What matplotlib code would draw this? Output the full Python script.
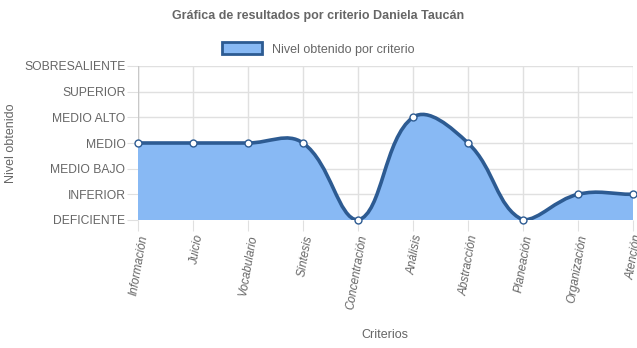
import numpy as np
import matplotlib
matplotlib.use("Agg")
import matplotlib.pyplot as plt
from matplotlib.path import Path
from matplotlib.patches import PathPatch, Patch

plt.rcParams['font.family'] = ['Liberation Sans', 'DejaVu Sans']

# datos
criterios = ['Información', 'Juicio', 'Vocabulario', 'Síntesis', 'Concentración',
             'Análisis', 'Abstracción', 'Planeación', 'Organización', 'Atención']
niveles = ['DEFICIENTE', 'INFERIOR', 'MEDIO BAJO', 'MEDIO', 'MEDIO ALTO',
           'SUPERIOR', 'SOBRESALIENTE']
valores = [3, 3, 3, 3, 0, 4, 3, 0, 1, 1]

gris = '#666666'
linea = '#2d5b92'
relleno = '#88b9f4'

fig = plt.figure(figsize=(6.37, 3.48), dpi=100)
ax = fig.add_axes([138 / 637, 1 - 220 / 348, 495 / 637, 154 / 348])
ax.set_xlim(0, len(criterios) - 1)
ax.set_ylim(0, len(niveles) - 1)

# curva tipo chart.js (tension 0.4) calculada en pixeles
x = np.arange(len(valores), dtype=float)
y = np.array(valores, dtype=float)
sx, sy = 55.0, 154 / 6
px, py = x * sx, y * sy
t = 0.4
cps = []
for i in range(len(px)):
    p0 = (px[max(i - 1, 0)], py[max(i - 1, 0)])
    p1 = (px[i], py[i])
    p2 = (px[min(i + 1, len(px) - 1)], py[min(i + 1, len(px) - 1)])
    d01 = np.hypot(p1[0] - p0[0], p1[1] - p0[1])
    d12 = np.hypot(p2[0] - p1[0], p2[1] - p1[1])
    s01 = d01 / (d01 + d12) if d01 + d12 else 0
    s12 = d12 / (d01 + d12) if d01 + d12 else 0
    fa, fb = t * s01, t * s12
    prev = (p1[0] - fa * (p2[0] - p0[0]), p1[1] - fa * (p2[1] - p0[1]))
    nxt = (p1[0] + fb * (p2[0] - p0[0]), p1[1] + fb * (p2[1] - p0[1]))
    cps.append((prev, nxt))

def clip(p):
    return (p[0] / sx, min(max(p[1] / sy, 0), 6))

verts = [(x[0], y[0])]
codes = [Path.MOVETO]
for i in range(len(x) - 1):
    verts += [clip(cps[i][1]), clip(cps[i + 1][0]), (x[i + 1], y[i + 1])]
    codes += [Path.CURVE4] * 3

area = Path(verts + [(x[-1], 0), (x[0], 0), (x[0], y[0])],
            codes + [Path.LINETO, Path.LINETO, Path.LINETO])
ax.add_patch(PathPatch(area, facecolor=relleno, edgecolor='none', zorder=2))
ax.add_patch(PathPatch(Path(verts, codes), facecolor='none', edgecolor=linea,
                       lw=2.6, zorder=3))
ax.plot(x, y, 'o', ms=5, mfc='white', mec=linea, mew=1, zorder=4, clip_on=False)

ax.set_yticks(range(len(niveles)))
ax.set_yticklabels(niveles)
ax.set_xticks(x)
ax.set_xticklabels(criterios, rotation=80, ha='right', rotation_mode='anchor',
                   style='italic')
ax.tick_params(colors='#e0e0e0', labelcolor=gris, length=8, labelsize=8.7, pad=1)
ax.tick_params(axis='x', labelsize=8.5, pad=2)
ax.grid(True, color='#e0e0e0', lw=1)
ax.set_axisbelow(True)
for s in ax.spines.values():
    s.set_visible(False)
ax.axvline(0, color='#c8c8c8', lw=1, zorder=1)
ax.axhline(0, color='#c8c8c8', lw=1, zorder=1)

fig.text(11 / 637, 1 - 143 / 348, 'Nivel obtenido', rotation=90, ha='center',
         va='center', color=gris, fontsize=9)
fig.text(385 / 637, 1 - 335 / 348, 'Criterios', ha='center', va='center',
         color=gris, fontsize=9)
fig.text(0.5, 1 - 16 / 348, 'Gráfica de resultados por criterio Daniela Taucán',
         ha='center', va='center', fontsize=9, fontweight='bold', color=gris)

leg = fig.legend(handles=[Patch(facecolor=relleno, edgecolor=linea, lw=2,
                                label='Nivel obtenido por criterio')],
                 loc='center', bbox_to_anchor=(0.5, 1 - 49 / 348), frameon=False,
                 fontsize=9, handlelength=3.2, handleheight=1.1)
for tx in leg.get_texts():
    tx.set_color(gris)

fig.savefig('out.png', dpi=100)
